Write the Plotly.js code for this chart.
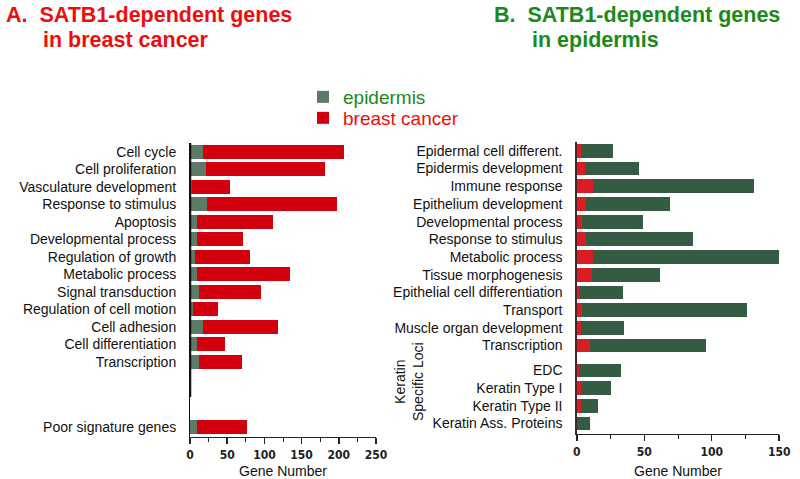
<!DOCTYPE html>
<html>
<head>
<meta charset="utf-8">
<script src="https://cdn.plot.ly/plotly-3.0.1.min.js"></script>
<style>html,body{margin:0;padding:0;background:#fff;}#chart{width:800px;height:479px;}</style>
</head>
<body>
<div id="chart"></div>
<script>
// ---- Data ----
const leftCategories = ['Cell cycle','Cell proliferation','Vasculature development','Response to stimulus','Apoptosis','Developmental process','Regulation of growth','Metabolic process','Signal transduction','Regulation of cell motion','Cell adhesion','Cell differentiation','Transcription','Poor signature genes'];
const leftEpidermis = [18,21,3,23,9,10,7,9,12,4,17,9,12,10];
const leftBreastCancer = [189,160,51,175,102,61,74,125,84,34,101,38,58,67];

const rightCategories = ['Epidermal cell different.','Epidermis development','Immune response','Epithelium development','Developmental process','Response to stimulus','Metabolic process','Tissue morphogenesis','Epithelial cell differentiation','Transport','Muscle organ development','Transcription','EDC','Keratin Type I','Keratin Type II','Keratin Ass. Proteins'];
const rightBreastCancer = [3,6,12,7,4,7,12,11,2,4,3,10,2,3,3,0.5];
const rightEpidermis = [24,40,119,62,45,79,138,51,32,122,32,86,31,22,13,9.5];

const leftTicks = [0,50,100,150,200,250];
const rightTicks = [0,50,100,150];

// ---- Layout helpers (positions computed, not data) ----
const leftMainCount = 13, leftGap = 2.75;
const rightMainCount = 12, rightGap = 0.41;
const leftPos = leftCategories.map((c,i)=> i < leftMainCount ? i : i + leftGap);
const rightPos = rightCategories.map((c,i)=> i < rightMainCount ? i : i + rightGap);

const C = {
  lGreen:'#5c7a66', lRed:'#d2000d', rGreen:'#335c43', rRed:'#dc1c24',
  titleRed:'#ef0c0c', titleGreen:'#1a8a1a'
};
const labelFont = {family:'Liberation Sans, Arial, sans-serif', size:14, color:'#111'};
const tickFont = {family:'Liberation Sans Narrow, Arial Narrow, DejaVu Sans Condensed, sans-serif', size:12, color:'#222', weight:'bold'};
const titleFont = (c)=>({family:'Liberation Sans, Arial, sans-serif', size:21.5, color:c, weight:'bold'});

const traces = [
  {type:'bar', orientation:'h', x:leftEpidermis, y:leftPos, xaxis:'x', yaxis:'y',
   marker:{color:C.lGreen}, width:0.8, legend:'legend',
   name:'<span style="color:#1a8a1a">epidermis</span>', showlegend:true},
  {type:'bar', orientation:'h', x:leftBreastCancer, y:leftPos, xaxis:'x', yaxis:'y',
   marker:{color:C.lRed}, width:0.8, legend:'legend2',
   name:'<span style="color:#ef0c0c">breast cancer</span>', showlegend:true},
  {type:'bar', orientation:'h', x:rightBreastCancer, y:rightPos, xaxis:'x2', yaxis:'y2',
   marker:{color:C.rRed}, width:0.78, showlegend:false},
  {type:'bar', orientation:'h', x:rightEpidermis, y:rightPos, xaxis:'x2', yaxis:'y2',
   marker:{color:C.rGreen}, width:0.78, showlegend:false}
];

const xCommon = {
  showgrid:false, zeroline:false, showline:true, linecolor:'#222', linewidth:1.5,
  ticks:'outside', ticklen:6, tickwidth:1.5, tickcolor:'#222', tickfont:tickFont,
  minor:{ticks:'outside', ticklen:4, tickwidth:1, tickcolor:'#222', dtick:25},
  fixedrange:true
};
const legendCommon = {xanchor:'left', yanchor:'middle', font:{family:'Liberation Sans, Arial, sans-serif', size:19},
  bgcolor:'rgba(0,0,0,0)', itemwidth:30};

const layout = {
  width:800, height:479, margin:{l:0,r:0,t:0,b:0},
  paper_bgcolor:'#fff', plot_bgcolor:'rgba(0,0,0,0)',
  barmode:'stack', bargap:0.2,
  showlegend:true,
  legend:Object.assign({}, legendCommon, {x:303/800, y:1-97/479}),
  legend2:Object.assign({}, legendCommon, {x:303/800, y:1-118/479}),
  xaxis:Object.assign({}, xCommon, {domain:[0.2375,0.47], range:[0,250], tickvals:leftTicks, anchor:'y',
    title:{text:'Gene Number', font:labelFont, standoff:8}}),
  yaxis:{domain:[0.0877,0.7015], range:[16.3,-0.5], anchor:'x',
    tickvals:leftPos, ticktext:leftCategories, ticks:'', tickfont:labelFont, ticklabelstandoff:10,
    showgrid:false, zeroline:false, showline:true, linecolor:'#111', linewidth:1, fixedrange:true},
  xaxis2:Object.assign({}, xCommon, {domain:[0.721,0.974], range:[0,150], tickvals:rightTicks, anchor:'y2',
    title:{text:'Gene Number', font:labelFont, standoff:8}}),
  yaxis2:{domain:[0.094,0.7035], range:[16.0,-0.5], anchor:'x2',
    tickvals:rightPos, ticktext:rightCategories, ticks:'', tickfont:labelFont, ticklabelstandoff:10,
    showgrid:false, zeroline:false, showline:true, linecolor:'#4a2424', linewidth:1.5, fixedrange:true},
  shapes:[
    {type:'line', xref:'x', yref:'paper', x0:0, x1:0, y0:1-397/479, y1:0.7015, line:{color:'#111', width:2.5}}
  ],
  annotations:[
    {text:'A.  SATB1-dependent genes', xref:'paper', yref:'paper', x:4/800, y:1-0.5/479, xanchor:'left', yanchor:'top', showarrow:false,
     font:titleFont(C.titleRed)},
    {text:'in breast cancer', xref:'paper', yref:'paper', x:41/800, y:1-25.5/479, xanchor:'left', yanchor:'top', showarrow:false,
     font:titleFont(C.titleRed)},
    {text:'B.  SATB1-dependent genes', xref:'paper', yref:'paper', x:492/800, y:1-0.5/479, xanchor:'left', yanchor:'top', showarrow:false,
     font:titleFont(C.titleGreen)},
    {text:'in epidermis', xref:'paper', yref:'paper', x:530/800, y:1-25.5/479, xanchor:'left', yanchor:'top', showarrow:false,
     font:titleFont(C.titleGreen)},
    {text:'Keratin<br>Specific Loci', xref:'paper', yref:'paper', x:409/800, y:(479-382)/479, xanchor:'center', yanchor:'middle',
     textangle:-90, showarrow:false, align:'center',
     font:{family:'Liberation Sans, Arial, sans-serif', size:14, color:'#111'}}
  ]
};

Plotly.newPlot('chart', traces, layout, {staticPlot:true, displayModeBar:false});
</script>
</body>
</html>
